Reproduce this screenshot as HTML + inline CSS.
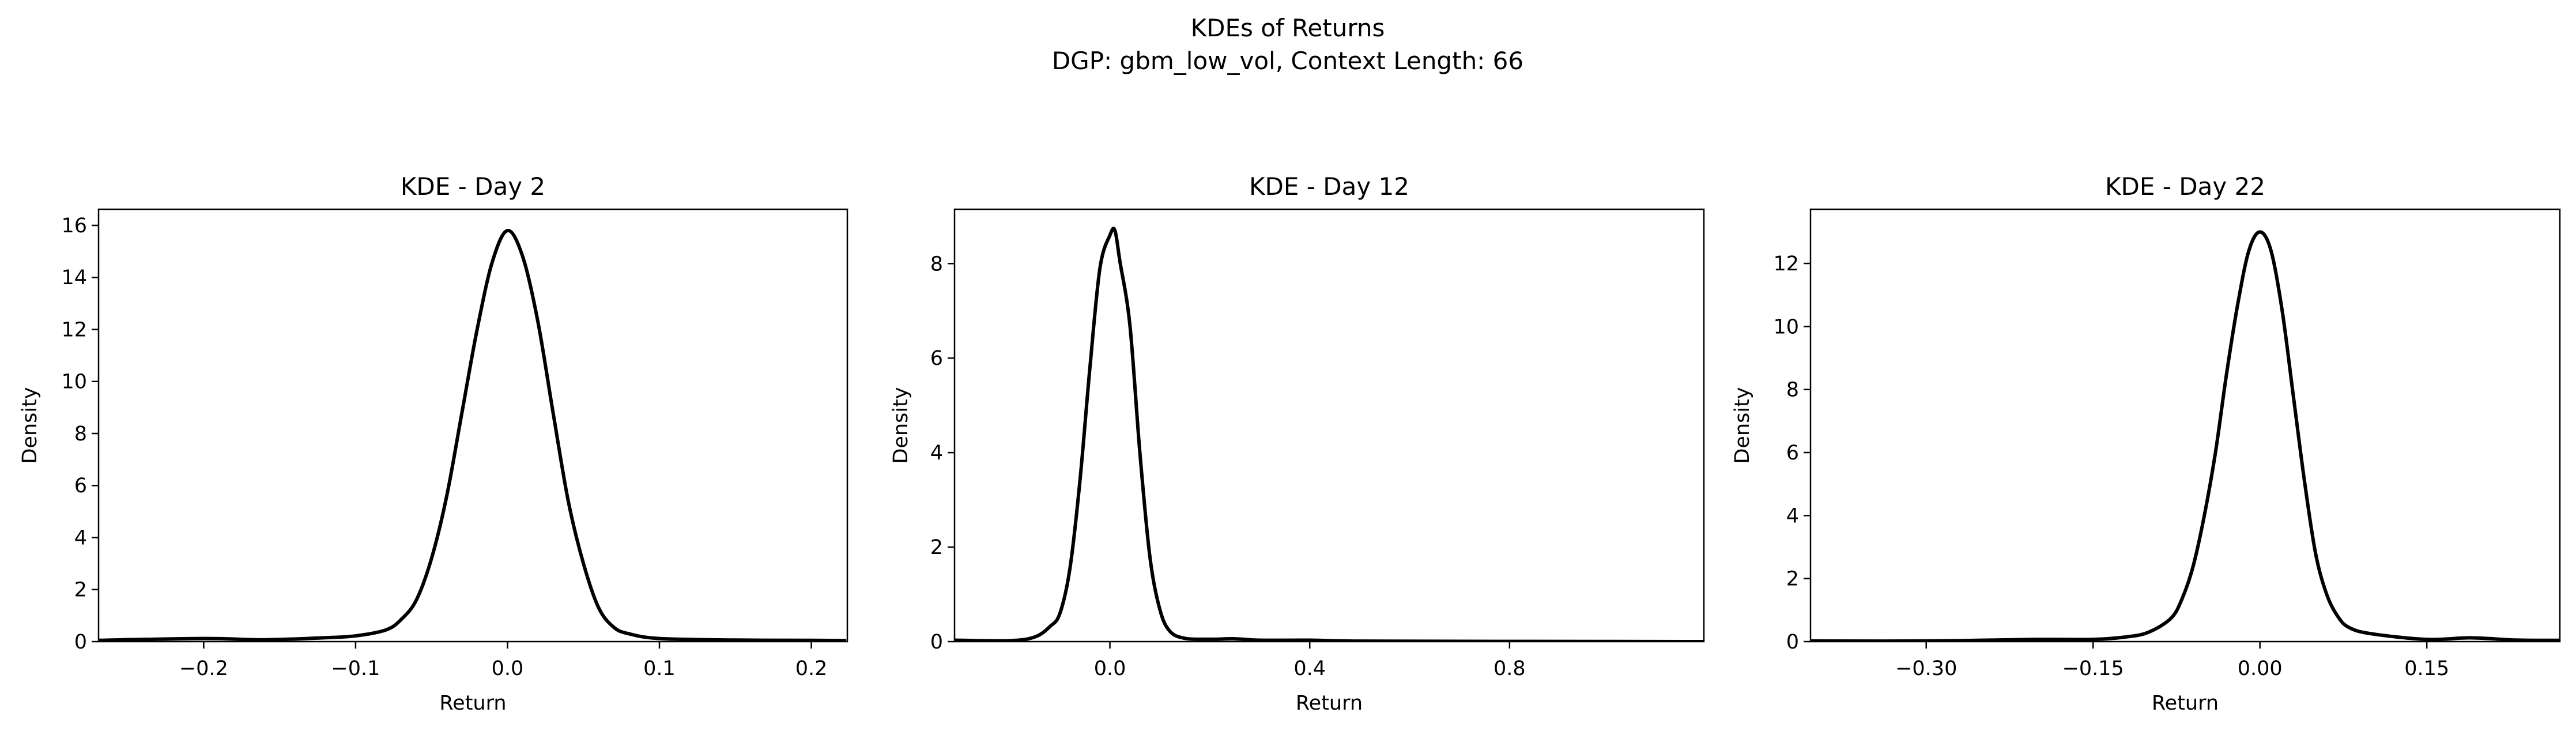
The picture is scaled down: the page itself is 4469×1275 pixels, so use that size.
<!DOCTYPE html>
<html><head><meta charset="utf-8"><style>
html,body{margin:0;padding:0;background:#fff}
svg{display:block;font-family:"DejaVu Sans","Liberation Sans",sans-serif}
</style></head><body>
<svg id="fig" width="4469" height="1275" viewBox="0 0 4469 1275" xmlns="http://www.w3.org/2000/svg">
<rect width="4469" height="1275" fill="#fff"/>
<text x="2234" y="63" font-size="42" text-anchor="middle">KDEs of Returns</text>
<text x="2234" y="120" font-size="42" text-anchor="middle">DGP: gbm_low_vol, Context Length: 66</text>
</svg>
<script>
const panelTitles = ["KDE - Day 2", "KDE - Day 12", "KDE - Day 22"];
const day2X = [-0.269,-0.2,-0.16,-0.12,-0.1,-0.08,-0.07,-0.06,-0.05,-0.04,-0.03,-0.02,-0.01,0,0.01,0.02,0.03,0.04,0.05,0.06,0.07,0.08,0.1,0.15,0.2,0.223];
const day2Y = [0.05,0.12,0.07,0.15,0.22,0.45,0.85,1.6,3.2,5.6,8.8,12.0,14.6,15.8,14.8,12.3,8.8,5.4,3.0,1.3,0.55,0.3,0.12,0.06,0.05,0.04];
const day12X = [-0.311,-0.2,-0.15,-0.12,-0.1,-0.08,-0.06,-0.04,-0.02,0,0.01,0.02,0.04,0.06,0.08,0.1,0.12,0.15,0.2,0.25,0.3,0.4,0.5,0.8,1.189];
const day12Y = [0.03,0.02,0.1,0.32,0.6,1.55,3.4,5.8,7.9,8.6,8.7,8.05,6.7,4.0,1.8,0.68,0.22,0.07,0.05,0.06,0.03,0.03,0.01,0.005,0.0];
const day22X = [-0.404,-0.3,-0.2,-0.15,-0.12,-0.1,-0.08,-0.07,-0.06,-0.05,-0.04,-0.03,-0.02,-0.01,0,0.01,0.02,0.03,0.04,0.05,0.06,0.07,0.08,0.1,0.15,0.19,0.23,0.27];
const day22Y = [0.02,0.02,0.07,0.07,0.15,0.3,0.74,1.36,2.4,4.0,6.0,8.5,10.7,12.4,13.0,12.4,10.5,7.8,5.1,2.8,1.5,0.8,0.45,0.25,0.07,0.12,0.05,0.04];
const xTicks1 = [-0.2,-0.1,0.0,0.1,0.2];
const xTickLabels1 = ["\u22120.2","\u22120.1","0.0","0.1","0.2"];
const xTicks2 = [0.0,0.4,0.8];
const xTickLabels2 = ["0.0","0.4","0.8"];
const xTicks3 = [-0.30,-0.15,0.0,0.15];
const xTickLabels3 = ["\u22120.30","\u22120.15","0.00","0.15"];
const yTicks1 = [0,2,4,6,8,10,12,14,16];
const yTicks2 = [0,2,4,6,8];
const yTicks3 = [0,2,4,6,8,10,12];
const xLims = [[-0.2692,0.2237],[-0.311,1.189],[-0.404,0.2696]];
const yLims = [[0,16.62],[0,9.15],[0,13.72]];

const NS = "http://www.w3.org/2000/svg";
const svg = document.getElementById('fig');
const boxes = [[171,1470],[1656,2956],[3141,4441]];
const top0 = 363, bot0 = 1113;
const ylabX = [51,1562,3022];
const panels = [
 {xs:day2X, ys:day2Y, xt:xTicks1, xl:xTickLabels1, yt:yTicks1},
 {xs:day12X, ys:day12Y, xt:xTicks2, xl:xTickLabels2, yt:yTicks2},
 {xs:day22X, ys:day22Y, xt:xTicks3, xl:xTickLabels3, yt:yTicks3}
];
function mk(tag, attrs, parent){const e=document.createElementNS(NS,tag);for(const k in attrs)e.setAttribute(k,attrs[k]);(parent||svg).appendChild(e);return e;}

panels.forEach((p,i)=>{
  const L=boxes[i][0], R=boxes[i][1];
  const sx=v=>L+(v-xLims[i][0])/(xLims[i][1]-xLims[i][0])*(R-L);
  const sy=v=>bot0-(v-yLims[i][0])/(yLims[i][1]-yLims[i][0])*(bot0-top0);
  const g=mk('g',{});
  
  
  const cl=mk('clipPath',{id:'c'+i},g);
  mk('rect',{x:L,y:top0-20,width:R-L,height:bot0-top0+20},cl);
  const pts=p.xs.map((x,j)=>[sx(x),sy(p.ys[j])]);
  let d='M'+pts[0][0]+','+pts[0][1];
  for(let j=0;j<pts.length-1;j++){
    const p0=pts[j-1]||pts[j],p1=pts[j],p2=pts[j+1],p3=pts[j+2]||p2;
    const c1=[p1[0]+(p2[0]-p0[0])/6,p1[1]+(p2[1]-p0[1])/6];
    const c2=[p2[0]-(p3[0]-p1[0])/6,p2[1]-(p3[1]-p1[1])/6];
    d+=' C'+c1+' '+c2+' '+p2;
  }
  const path=mk('path',{d:d,fill:'none',stroke:'#000','stroke-width':6,'stroke-linejoin':'round','clip-path':'url(#c'+i+')'},g);
  
  
  const frame=mk('rect',{x:L,y:top0,width:R-L,height:bot0-top0,fill:'none',stroke:'#000','stroke-width':2.5},g);
  
  
  p.xt.forEach((t,j)=>{
    const x=sx(t);
    mk('line',{x1:x,x2:x,y1:bot0,y2:bot0+12,stroke:'#000','stroke-width':2.5},g);
    const tx=mk('text',{x:x,y:bot0+58,'font-size':35,'text-anchor':'middle'},g);
    tx.textContent=p.xl[j];
    
    
  });
  p.yt.forEach(t=>{
    const y=sy(t);
    mk('line',{x1:L-12,x2:L,y1:y,y2:y,stroke:'#000','stroke-width':2.5},g);
    const ty=mk('text',{x:L-20,y:y+12,'font-size':35,'text-anchor':'end'},g);
    ty.textContent=String(t);
    
    
  });
  const tt=mk('text',{x:(L+R)/2,y:338,'font-size':42,'text-anchor':'middle'},g);
  tt.textContent=panelTitles[i];
  
  
  const xl=mk('text',{x:(L+R)/2,y:1231,'font-size':35,'text-anchor':'middle'},g);
  xl.textContent='Return';
  
  
  const yl=mk('text',{x:0,y:0,'font-size':35,'text-anchor':'middle',transform:'translate('+(ylabX[i]+12)+','+((top0+bot0)/2)+') rotate(-90)'},g);
  yl.textContent='Density';
  
  
});
</script>
</body></html>
